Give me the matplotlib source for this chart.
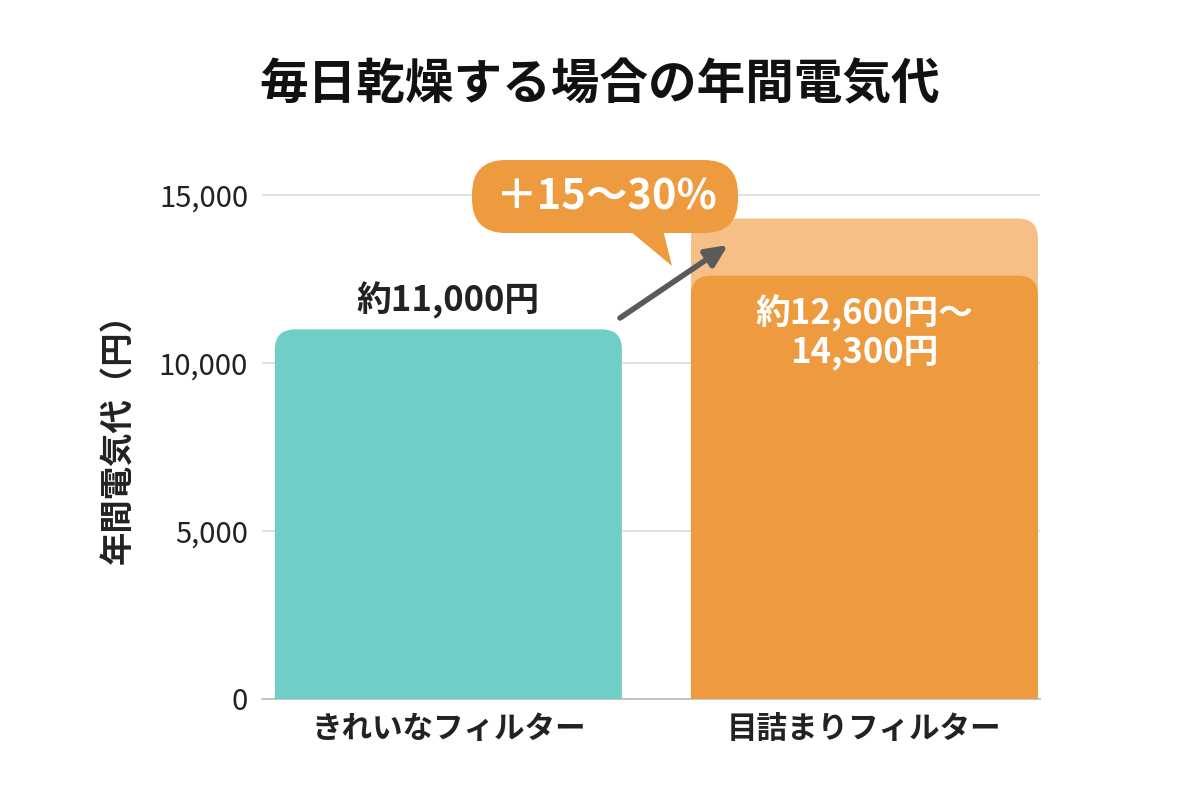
import matplotlib
matplotlib.use("Agg")
import matplotlib.pyplot as plt
from matplotlib.patches import FancyBboxPatch, Polygon

plt.rcParams['font.family'] = ['Noto Sans CJK JP', 'DejaVu Sans']

# ---- data ----
title = "毎日乾燥する場合の年間電気代"
categories = ["きれいなフィルター", "目詰まりフィルター"]
values_low = [11000, 12600]
values_high = [11000, 14300]
bar_labels = ["約11,000円", "約12,600円～\n14,300円"]
ylabel = "年間電気代（円）"
yticks = [0, 5000, 10000, 15000]
ytick_labels = ["0", "5,000", "10,000", "15,000"]
bubble_text = "＋15～30%"

teal = "#6fcec5"
orange = "#ee9a3e"
light_orange = "#f5bf86"

fig = plt.figure(figsize=(12, 8), dpi=100)
ax = fig.add_axes([262/1200, 1-699/800, 778/1200, (699-161.4)/800])
ax.set_xlim(-0.448, 1.422)
ax.set_ylim(0, 16000)

fig.canvas.draw()
p0 = ax.transData.transform((0, 0))
p1 = ax.transData.transform((1, 1))
px_x = p1[0] - p0[0]
px_y = p1[1] - p0[1]
r_px = 20
r_x = r_px / px_x
aspect = px_x / px_y
r_y = r_px / px_y
width = 347 / px_x

def rbar(xc, top, color, z):
    p = FancyBboxPatch((xc - width/2, -3*r_y), width, top + 3*r_y,
                       boxstyle=f"round,pad=0,rounding_size={r_x}",
                       mutation_aspect=aspect, fc=color, ec="none", zorder=z,
                       clip_on=True)
    ax.add_patch(p)

for i, (lo, hi) in enumerate(zip(values_low, values_high)):
    if hi > lo:
        rbar(i, hi, light_orange, 2)
        rbar(i, lo, orange, 3)
    else:
        rbar(i, lo, teal, 3)

ax.set_yticks(yticks)
ax.set_yticklabels(ytick_labels, fontsize=21, color="#222222")
ax.set_xticks(range(len(categories)))
ax.set_xticklabels(categories, fontsize=22, fontweight="bold", color="#222222")
ax.tick_params(axis="y", length=0, pad=10)
ax.tick_params(axis="x", length=0, pad=10)
for s in ["top", "right", "left"]:
    ax.spines[s].set_visible(False)
ax.spines["bottom"].set_color("#bbbbbb")
ax.spines["bottom"].set_linewidth(1.2)
ax.yaxis.grid(True, color="#dddddd", linewidth=1.2)
ax.set_axisbelow(True)
ax.set_ylabel(ylabel, fontsize=24, fontweight="bold", color="#222222")
ax.yaxis.set_label_coords(-0.163, 0.5)

# bar labels
ax.text(0, values_low[0] + 300, bar_labels[0], ha="center", va="bottom",
        fontsize=25, fontweight="bold", color="#222222", zorder=5)
ax.text(1, values_low[1] - 560, bar_labels[1], ha="center", va="top",
        fontsize=25, fontweight="bold", color="white", zorder=5, linespacing=1.1)

fig.suptitle(title, x=0.5, y=1-85/800, va="center", fontsize=35, fontweight="bold", color="#111111")

# overlay for annotation in pixel coordinates
ov = fig.add_axes([0, 0, 1, 1], zorder=10)
ov.set_xlim(0, 1200)
ov.set_ylim(800, 0)
ov.axis("off")
ov.patch.set_alpha(0)

ov.annotate("", xy=(728, 245), xytext=(620, 318),
            arrowprops=dict(arrowstyle="-|>,head_length=1.3,head_width=0.6",
                            color="#5a5a5a", lw=4, shrinkA=0, shrinkB=0))
bub = FancyBboxPatch((472, 160), 266, 73, boxstyle="round,pad=0,rounding_size=34",
                     fc=orange, ec="none", zorder=3)
ov.add_patch(bub)
ov.add_patch(Polygon([(624, 226), (662, 226), (672, 266)], closed=True,
                     fc=orange, ec="none", zorder=3))
ov.text(607, 197, bubble_text, ha="center", va="center", fontsize=30,
        fontweight="bold", color="white", zorder=4)

fig.savefig("out.png", dpi=100)
